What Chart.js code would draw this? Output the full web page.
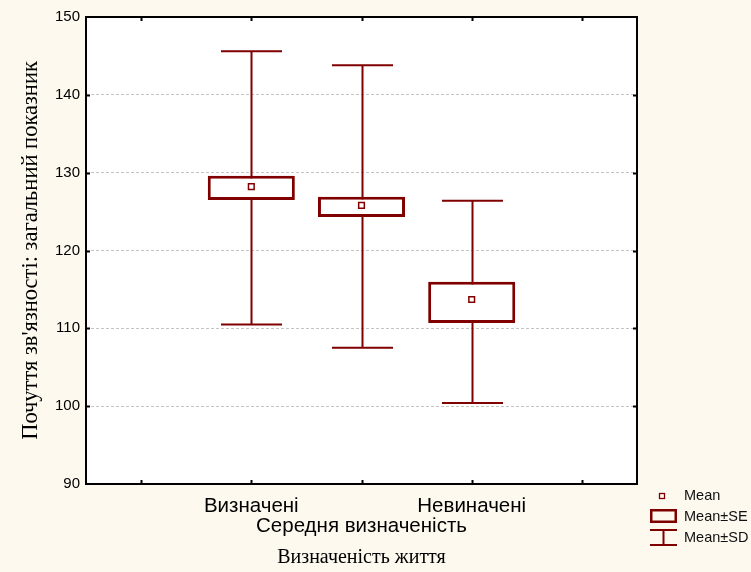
<!DOCTYPE html>
<html>
<head>
<meta charset="utf-8">
<title>Визначеність життя</title>
<script src="https://cdn.jsdelivr.net/npm/chart.js@4.4.1/dist/chart.umd.min.js"></script>
<style>
  body { margin:0; background:#fdf9ef; }
  canvas { display:block; }
</style>
</head>
<body>
<canvas id="boxChart" width="751" height="572"></canvas>
<script>
const grupos = ['Визначені', 'Середня визначеність', 'Невиначені'];
const medias = [128.2, 125.8, 113.7];
const seBajo = [126.5, 124.3, 110.7];
const seAlto = [129.6, 126.9, 116.0];
const sdBajo = [110.5, 107.5, 100.4];
const sdAlto = [145.6, 143.8, 126.4];
const yTicks = [90, 100, 110, 120, 130, 140, 150];

const rojo = '#800000';
const fondo = '#fdf9ef';

// empty slot at each end of the category axis
const etiquetas = ['', ...grupos, ''];
const pad = arr => [null, ...arr, null];

const fondoPlugin = {
  id: 'fondo',
  beforeDraw(chart) {
    const { ctx, chartArea: a } = chart;
    ctx.save();
    ctx.fillStyle = fondo;
    ctx.fillRect(0, 0, chart.width, chart.height);
    ctx.fillStyle = '#ffffff';
    ctx.fillRect(a.left, a.top, a.right - a.left, a.bottom - a.top);
    ctx.restore();
  }
};

// Mean±SD whiskers, behind the SE boxes
const bigotesPlugin = {
  id: 'bigotes',
  beforeDatasetsDraw(chart) {
    const { ctx, scales: { x, y } } = chart;
    const paso = x.getPixelForValue(1) - x.getPixelForValue(0);
    const semi = paso * 0.277;
    ctx.save();
    ctx.strokeStyle = rojo;
    ctx.lineWidth = 2;
    grupos.forEach((g, i) => {
      const cx = Math.round(x.getPixelForValue(i + 1)) + 0.5;
      const yTop = y.getPixelForValue(sdAlto[i]);
      const yBot = y.getPixelForValue(sdBajo[i]);
      ctx.beginPath();
      ctx.moveTo(cx, yTop); ctx.lineTo(cx, yBot);
      ctx.moveTo(cx - semi, yTop); ctx.lineTo(cx + semi, yTop);
      ctx.moveTo(cx - semi, yBot); ctx.lineTo(cx + semi, yBot);
      ctx.stroke();
    });
    ctx.restore();
  }
};

// frame, inner tick marks and the legend on the right
const marcoPlugin = {
  id: 'marco',
  afterDraw(chart) {
    const { ctx, chartArea: a, scales: { x, y } } = chart;
    ctx.save();
    ctx.strokeStyle = '#000';
    ctx.lineWidth = 2;
    ctx.strokeRect(a.left, a.top, a.right - a.left, a.bottom - a.top);

    ctx.beginPath();
    for (let i = 0; i < etiquetas.length; i++) {
      const px = Math.round(x.getPixelForValue(i)) + 0.5;
      ctx.moveTo(px, a.bottom); ctx.lineTo(px, a.bottom - 4);
      ctx.moveTo(px, a.top); ctx.lineTo(px, a.top + 4);
    }
    yTicks.slice(1, -1).forEach(v => {
      const py = Math.round(y.getPixelForValue(v)) + 0.5;
      ctx.moveTo(a.left, py); ctx.lineTo(a.left + 4, py);
      ctx.moveTo(a.right, py); ctx.lineTo(a.right - 4, py);
    });
    ctx.stroke();

    // leyenda
    const lx = 650, tx = 684;
    ctx.strokeStyle = rojo;
    ctx.lineWidth = 1.3;
    ctx.strokeRect(659.5, 493.5, 5, 5);
    ctx.lineWidth = 2.5;
    ctx.strokeRect(lx + 1.25, 510.25, 24.5, 11.5);
    ctx.lineWidth = 2;
    ctx.beginPath();
    ctx.moveTo(lx, 530); ctx.lineTo(lx + 27, 530);
    ctx.moveTo(lx, 545); ctx.lineTo(lx + 27, 545);
    ctx.moveTo(lx + 13.5, 530); ctx.lineTo(lx + 13.5, 545);
    ctx.stroke();

    ctx.fillStyle = '#111';
    ctx.font = '14.5px "Liberation Sans", Arial, sans-serif';
    ctx.textBaseline = 'middle';
    ctx.textAlign = 'left';
    ctx.fillText('Mean', tx, 496);
    ctx.fillText('Mean±SE', tx, 517);
    ctx.fillText('Mean±SD', tx, 538);
    ctx.restore();
  }
};

const ctx = document.getElementById('boxChart').getContext('2d');
const boxChart = new Chart(ctx, {
  data: {
    labels: etiquetas,
    datasets: [
      {
        type: 'line',
        label: 'Mean',
        data: pad(medias),
        showLine: false,
        pointStyle: 'rect',
        pointRadius: 4,
        pointBorderWidth: 1.5,
        pointBorderColor: rojo,
        pointBackgroundColor: '#ffffff',
        order: 0
      },
      {
        type: 'bar',
        label: 'Mean±SE',
        data: pad(grupos.map((g, i) => [seBajo[i], seAlto[i]])),
        backgroundColor: '#ffffff',
        borderColor: rojo,
        borderWidth: 3,
        borderSkipped: false,
        barPercentage: 0.79,
        categoryPercentage: 1,
        order: 1
      }
    ]
  },
  options: {
    responsive: false,
    animation: false,
    events: [],
    layout: { padding: { top: 17, right: 114, left: 0, bottom: 0 } },
    plugins: {
      legend: { display: false },
      tooltip: { enabled: false }
    },
    scales: {
      x: {
        type: 'category',
        offset: true,
        grid: { display: false, drawTicks: false },
        border: { display: false },
        ticks: {
          autoSkip: false,
          maxRotation: 0,
          padding: 12,
          color: '#000',
          font: { family: '"Liberation Sans", Arial, sans-serif', size: 20.5, lineHeight: 1 },
          callback: (v, i) => i === 2 ? ['', etiquetas[i]] : etiquetas[i]
        },
        title: {
          display: true,
          text: 'Визначеність життя',
          color: '#000',
          font: { family: '"Liberation Serif", "Times New Roman", serif', size: 20 },
          padding: { top: 0, bottom: 2 }
        },
        afterFit: s => { s.height = 88; }
      },
      y: {
        min: 90,
        max: 150,
        afterBuildTicks: s => { s.ticks = yTicks.map(v => ({ value: v })); },
        grid: {
          drawTicks: false,
          lineWidth: 1,
          color: c => (c.tick.value === 90 || c.tick.value === 150) ? 'rgba(0,0,0,0)' : '#c4c4c4'
        },
        border: { display: false, dash: [3, 2] },
        ticks: {
          padding: 6,
          color: '#000',
          font: { family: '"Liberation Sans", Arial, sans-serif', size: 15 }
        },
        title: {
          display: true,
          text: "Почуття зв'язності: загальний показник",
          color: '#000',
          font: { family: '"Liberation Serif", "Times New Roman", serif', size: 22.5 },
          padding: { top: 18, bottom: 0 }
        },
        afterFit: s => { s.width = 86; }
      }
    }
  },
  plugins: [fondoPlugin, bigotesPlugin, marcoPlugin]
});
</script>
</body>
</html>
